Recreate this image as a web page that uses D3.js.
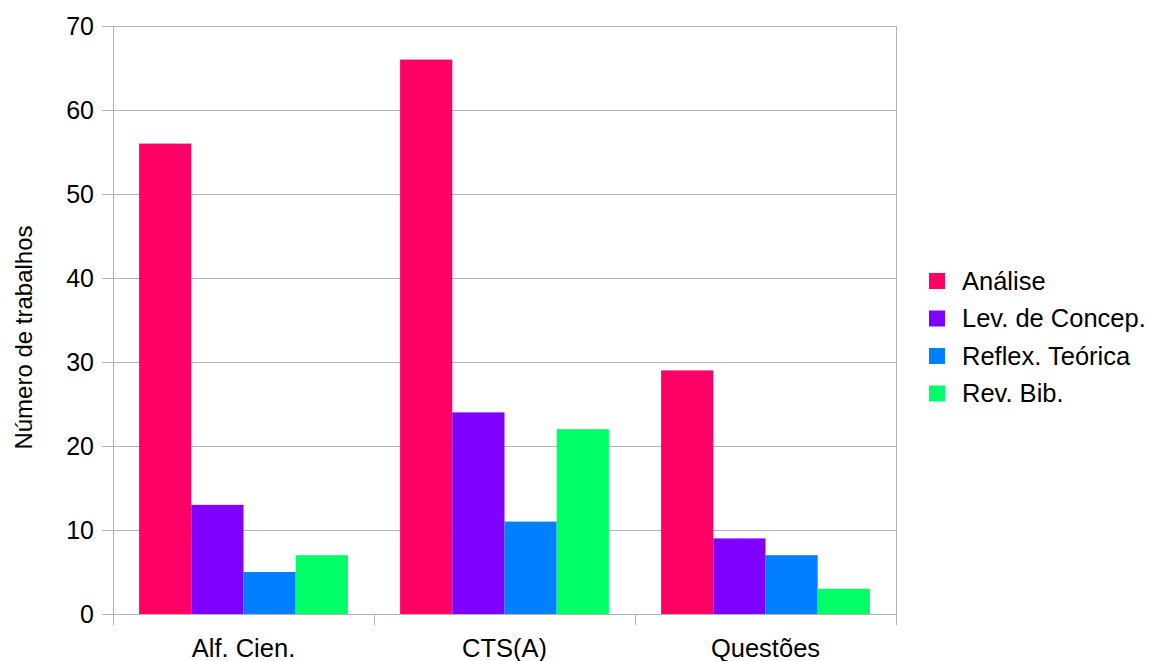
<!DOCTYPE html>
<html>
<head>
<meta charset="utf-8">
<script src="https://cdn.jsdelivr.net/npm/d3@7"></script>
<style>
  html, body { margin: 0; padding: 0; background: #fff; }
  svg { display: block; font-family: "Liberation Sans", Arial, sans-serif; }
</style>
</head>
<body>
<svg id="chart" width="1150" height="661"></svg>
<script>
// Categories, series and values
const categories = ["Alf. Cien.", "CTS(A)", "Questões"];
const seriesNames = ["Análise", "Lev. de Concep.", "Reflex. Teórica", "Rev. Bib."];
const analise = [56, 66, 29];
const levConcep = [13, 24, 9];
const reflexTeorica = [5, 11, 7];
const revBib = [7, 22, 3];
const yTicks = [0, 10, 20, 30, 40, 50, 60, 70];
const colors = ["#ff0066", "#8000ff", "#0080ff", "#00ff66"];

const seriesValues = [analise, levConcep, reflexTeorica, revBib];

(function draw() {
  const svg = d3.select("#chart");
  const plotLeft = 113, plotRight = 896, plotTop = 26, plotBottom = 614;
  const labelSize = 25.5, tickSize = 25, titleSize = 24;

  const x0 = d3.scaleBand().domain(categories).range([plotLeft, plotRight]).padding(0);
  const x1 = d3.scaleBand().domain(seriesNames)
    .range([0, x0.bandwidth()]).paddingInner(0).paddingOuter(0.5);
  const y = d3.scaleLinear().domain([0, 70]).range([plotBottom, plotTop]);

  // Horizontal gridlines with short tick extensions to the left
  svg.append("g").selectAll("line").data(yTicks).join("line")
    .attr("x1", plotLeft - 11).attr("x2", plotRight)
    .attr("y1", d => y(d)).attr("y2", d => y(d))
    .attr("stroke", "#b3b3b3").attr("stroke-width", 1)
    .attr("shape-rendering", "crispEdges");

  // Plot frame sides
  [plotLeft, plotRight].forEach(xv => {
    svg.append("line").attr("x1", xv).attr("x2", xv).attr("y1", plotTop).attr("y2", plotBottom)
      .attr("stroke", "#b3b3b3").attr("shape-rendering", "crispEdges");
  });

  // Bars
  const groups = svg.append("g").selectAll("g").data(categories).join("g")
    .attr("transform", d => `translate(${x0(d)},0)`);
  groups.selectAll("rect")
    .data((c, i) => seriesNames.map((s, j) => ({ s, j, v: seriesValues[j][i] })))
    .join("rect")
    .attr("x", d => x1(d.s))
    .attr("width", x1.bandwidth())
    .attr("y", d => y(d.v))
    .attr("height", d => y(0) - y(d.v))
    .attr("fill", d => colors[d.j]);

  // Y axis labels
  const yAxis = d3.axisLeft(y).tickValues(yTicks).tickSize(0).tickPadding(15);
  const yg = svg.append("g").attr("transform", `translate(${plotLeft - 4},0)`).call(yAxis);
  yg.select(".domain").remove();
  yg.selectAll("text").attr("font-size", tickSize).attr("font-family", "Liberation Sans, Arial, sans-serif")
    .attr("fill", "#000");

  // X axis: category boundary ticks and labels
  const bounds = [plotLeft, ...categories.map(c => x0(c) + x0.bandwidth())];
  svg.append("g").selectAll("line").data(bounds).join("line")
    .attr("x1", d => d).attr("x2", d => d)
    .attr("y1", plotBottom).attr("y2", plotBottom + 11)
    .attr("stroke", "#b3b3b3").attr("shape-rendering", "crispEdges");
  svg.append("line").attr("x1", plotLeft).attr("x2", plotRight).attr("y1", plotBottom).attr("y2", plotBottom)
    .attr("stroke", "#b3b3b3").attr("shape-rendering", "crispEdges");
  svg.append("g").selectAll("text").data(categories).join("text")
    .attr("x", d => x0(d) + x0.bandwidth() / 2)
    .attr("y", 657)
    .attr("text-anchor", "middle")
    .attr("font-size", labelSize)
    .text(d => d);

  // Y axis title
  svg.append("text")
    .attr("transform", "translate(32,337.5) rotate(-90)")
    .attr("text-anchor", "middle")
    .attr("font-size", titleSize)
    .text("Número de trabalhos");

  // Legend
  const legend = svg.append("g").selectAll("g").data(seriesNames).join("g")
    .attr("transform", (d, i) => `translate(929,${281 + i * 37.5})`);
  legend.append("rect").attr("x", 0).attr("y", -8).attr("width", 16).attr("height", 16)
    .attr("fill", (d, i) => colors[i]);
  legend.append("text").attr("x", 33).attr("y", 0).attr("dy", "0.35em")
    .attr("font-size", labelSize).text(d => d);
})();
</script>
</body>
</html>
